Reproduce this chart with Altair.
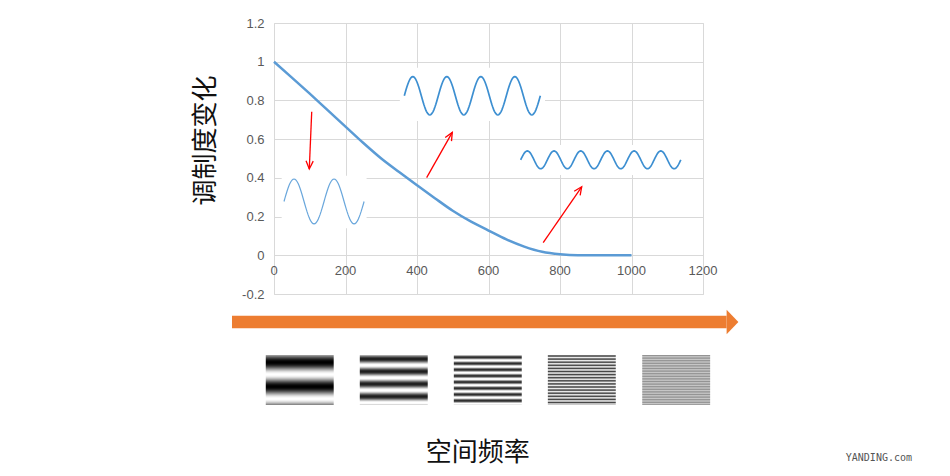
import math
import altair as alt
import pandas as pd

# ---------------- data ----------------
freq = [0, 50, 100, 150, 200, 250, 300, 350, 400, 450, 500, 550, 600, 650, 700,
        750, 800, 850, 900, 950, 1000]
mtf = [1.0, 0.918, 0.835, 0.75, 0.665, 0.58, 0.50, 0.43, 0.362, 0.295, 0.23,
       0.175, 0.128, 0.082, 0.045, 0.018, 0.005, 0.0, 0.0, 0.0, 0.0]

x_ticks = [0, 200, 400, 600, 800, 1000, 1200]
y_ticks = [-0.2, 0, 0.2, 0.4, 0.6, 0.8, 1.0, 1.2]

# inset sine-wave illustrations
wave_name = ["low", "mid", "high"]
wave_x0 = [28, 364.5, 690]
wave_x1 = [252, 745, 1138]
wave_yc = [0.278, 0.824, 0.493]
wave_amp = [0.116, 0.099, 0.046]
wave_cycles = [2, 4, 6]
wave_color = ["#6aa7dc", "#3d8fd1", "#3d8fd1"]
wave_width = [1.2, 1.7, 1.7]

# white panels behind the insets
panel_x0 = [21.5, 352, 682]
panel_x1 = [259, 758, 1149]
panel_y0 = [0.140, 0.694, 0.415]
panel_y1 = [0.411, 0.969, 0.570]

# red arrows
arrow_x0 = [105.5, 427, 753]
arrow_y0 = [0.742, 0.401, 0.065]
arrow_x1 = [98.7, 498.7, 860.7]
arrow_y1 = [0.446, 0.635, 0.354]

# orange frequency arrow
orange_body_x = [-117.5, 1266]
orange_body_y = [-0.313, -0.377]
orange_head_x = [1266, 1299]
orange_head_top = [-0.282, -0.345]
orange_head_bottom = [-0.408, -0.345]

# grating patches
grating_x0 = [-23, 240, 503, 766, 1030]
grating_w = 190
grating_top = -0.51513
grating_bottom = -0.775
grating_period_px = [24.3, 12.5, 6.2, 3.1, 2.6]
grating_phase_px = [7.3, 4.0, 2.3, 1.0, 0.5]
grating_mean = [0.5, 0.57, 0.6, 0.6, 0.68]
grating_amp = [0.5, 0.45, 0.42, 0.32, 0.1]

y_title = "调制度变化"
x_title = "空间频率"
watermark = "YANDING.com"
x_title_pos = (570, -1.022)
watermark_pos = (1692, -1.049)

# ---------------- layout ----------------
W, H = 429, 271
PXX = W / 1200.0
PXY = H / 1.4

xscale = alt.Scale(domain=[0, 1200], nice=False, zero=False)
yscale = alt.Scale(domain=[-0.2, 1.2], nice=False, zero=False)
xaxis = alt.Axis(values=x_ticks, grid=True, labels=False, ticks=False, domain=False,
                 title=None, gridColor="#d9d9d9", gridWidth=1)
yaxis = alt.Axis(values=y_ticks, grid=True, ticks=False, domain=False,
                 gridColor="#d9d9d9", gridWidth=1,
                 labelExpr="replace(format(datum.value, '.1~f'), '\u2212', '-')",
                 labelFont="Liberation Sans", labelFontSize=13, labelColor="#595959",
                 labelPadding=10,
                 title=y_title, titleFont="Noto Sans CJK SC", titleFontSize=26,
                 titleFontWeight="normal", titleColor="#111111", titleAngle=270,
                 titleAlign="center", titleBaseline="middle", titleX=-69, titleY=117)


def X(f="x"):
    return alt.X(f"{f}:Q", scale=xscale, axis=xaxis)


def Y(f="y"):
    return alt.Y(f"{f}:Q", scale=yscale, axis=yaxis)


# ---------------- tables ----------------
curve_df = pd.DataFrame({"x": freq, "y": mtf})

panel_df = pd.DataFrame({"x": panel_x0, "x2": panel_x1, "y": panel_y0, "y2": panel_y1})

rows = []
for i, nm in enumerate(wave_name):
    n = wave_cycles[i] * 40
    for k in range(n + 1):
        t = k / n
        rows.append({
            "name": nm,
            "x": wave_x0[i] + t * (wave_x1[i] - wave_x0[i]),
            "y": wave_yc[i] + wave_amp[i] * math.sin(2 * math.pi * wave_cycles[i] * t),
            "c": wave_color[i],
            "w": wave_width[i],
        })
wave_df = pd.DataFrame(rows)

arrow_df = pd.DataFrame({"x": arrow_x0, "y": arrow_y0, "x2": arrow_x1, "y2": arrow_y1})
angles = []
for i in range(len(arrow_x0)):
    dxp = (arrow_x1[i] - arrow_x0[i]) * PXX
    dyp = -(arrow_y1[i] - arrow_y0[i]) * PXY
    angles.append(math.degrees(math.atan2(dxp, -dyp)) % 360)
head_df = pd.DataFrame({"x": arrow_x1, "y": arrow_y1, "ang": angles})

tick_df = pd.DataFrame({"x": x_ticks, "y": [0] * len(x_ticks),
                        "t": [str(v) for v in x_ticks]})

body_df = pd.DataFrame({"x": [orange_body_x[0]], "x2": [orange_body_x[1]],
                        "y": [orange_body_y[0]], "y2": [orange_body_y[1]]})
ohead_df = pd.DataFrame({"x": orange_head_x, "y": orange_head_top, "y2": orange_head_bottom})

grows = []
nrows = int(round((grating_top - grating_bottom) * PXY))
for g in range(len(grating_x0)):
    for r in range(nrows):
        py = r + 0.5
        b = grating_mean[g] - grating_amp[g] * math.cos(
            2 * math.pi * (py - grating_phase_px[g]) / grating_period_px[g])
        b = min(1.0, max(0.0, b))
        v = int(round(b * 255))
        y_top = grating_top - r / PXY
        y_bot = grating_top - (r + 1) / PXY
        grows.append({"x": grating_x0[g], "x2": grating_x0[g] + grating_w,
                      "y": y_top, "y2": y_bot, "c": "#%02x%02x%02x" % (v, v, v)})
grating_df = pd.DataFrame(grows)

label_df = pd.DataFrame({"x": [x_title_pos[0], watermark_pos[0]],
                         "y": [x_title_pos[1], watermark_pos[1]],
                         "t": [x_title, watermark]})

# ---------------- layers ----------------
panels = alt.Chart(panel_df).mark_rect(color="white").encode(
    x=X(), x2="x2:Q", y=Y(), y2="y2:Q")

curve = alt.Chart(curve_df).mark_line(color="#5b9bd5", strokeWidth=2.5,
                                      interpolate="monotone").encode(x=X(), y=Y())

waves = alt.Chart(wave_df).mark_line().encode(
    x=X(), y=Y(), detail="name:N",
    color=alt.Color("c:N", scale=None),
    strokeWidth=alt.StrokeWidth("w:Q", scale=None))

shafts = alt.Chart(arrow_df).mark_rule(color="#ff0000", strokeWidth=1.3).encode(
    x=X(), y=Y(), x2="x2:Q", y2="y2:Q")

heads = alt.Chart(head_df).mark_point(
    shape="M-0.45,1L0,0L0.45,1", filled=False, color="#ff0000", strokeWidth=1.3,
    size=256, opacity=1).encode(
    x=X(), y=Y(), angle=alt.Angle("ang:Q", scale=None))

ticks = alt.Chart(tick_df).mark_text(
    dy=16, baseline="middle", align="center", font="Liberation Sans", fontSize=13,
    color="#595959").encode(x=X(), y=Y(), text="t:N")

obody = alt.Chart(body_df).mark_rect(color="#ed7d31").encode(
    x=X(), x2="x2:Q", y=Y(), y2="y2:Q")
ohead = alt.Chart(ohead_df).mark_area(color="#ed7d31", opacity=1).encode(
    x=X(), y=Y(), y2="y2:Q")

gratings = alt.Chart(grating_df).mark_rect(strokeWidth=0).encode(
    x=X(), x2="x2:Q", y=Y(), y2="y2:Q", color=alt.Color("c:N", scale=None))

xtitle = alt.Chart(label_df.iloc[[0]]).mark_text(
    font="Noto Sans CJK SC", fontSize=26, color="#111111", baseline="middle",
    align="center").encode(x=X(), y=Y(), text="t:N")
wmark = alt.Chart(label_df.iloc[[1]]).mark_text(
    font="DejaVu Sans Mono", fontSize=10, color="#555555", baseline="middle",
    align="center").encode(x=X(), y=Y(), text="t:N")

chart = alt.layer(panels, curve, waves, shafts, heads, ticks, obody, ohead,
                  gratings, xtitle, wmark).properties(
    width=W, height=H,
    autosize=alt.AutoSizeParams(type="none"),
    padding={"left": 266, "top": 15, "right": 239, "bottom": 174},
).configure_view(strokeWidth=0).configure(background="white")

chart.save("out.html", embed_options={"renderer": "svg", "actions": False})
